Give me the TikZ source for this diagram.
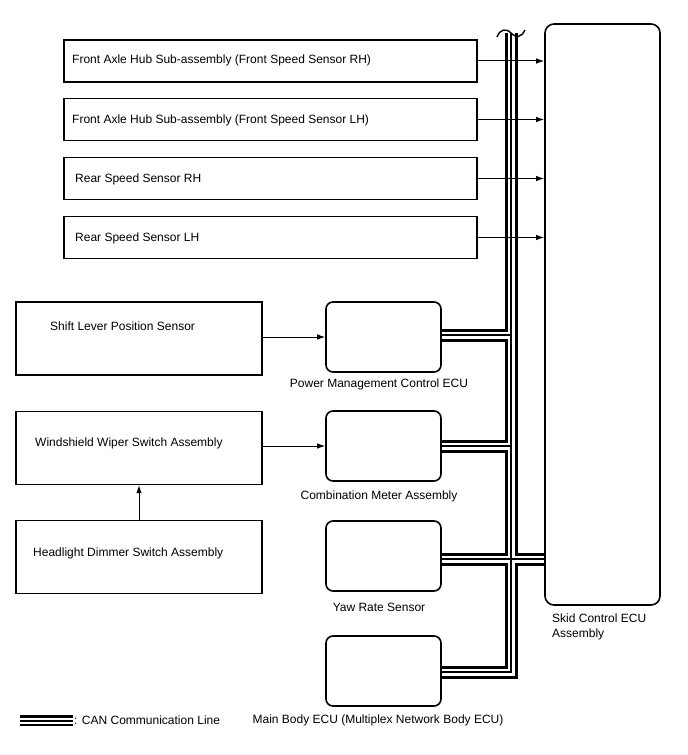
\documentclass[tikz,border=0pt]{standalone}
\usepackage{fontspec}
\setmainfont{Liberation Sans}
\usetikzlibrary{arrows.meta}
\begin{document}
\begin{tikzpicture}[x=1bp,y=-1bp,
  every node/.style={font=\fontsize{12bp}{14bp}\selectfont},
  sbox/.style={draw, line width=1.3bp, inner sep=0pt, minimum width=413bp, minimum height=42bp},
  lbox/.style={draw, line width=1.3bp, inner sep=0pt, minimum width=246bp, minimum height=73bp},
  ecu/.style={draw, line width=1.6bp, rounded corners=7bp, inner sep=0pt, minimum width=115bp, minimum height=70bp},
  skid/.style={draw, line width=1.6bp, rounded corners=9bp, inner sep=0pt, minimum width=115bp, minimum height=581bp},
  txt/.style={inner sep=0pt, anchor=base west},
  ctxt/.style={inner sep=0pt, anchor=base},
  arr/.style={line width=1bp, -{Latex[length=8bp,width=5.5bp]}},
  canA/.style={line width=13bp, line join=miter},
  canB/.style={white, line width=7bp, line join=miter},
  canC/.style={line width=1.3bp, line join=miter},
  legA/.style={line width=11bp},
  legB/.style={white, line width=6bp},
  legC/.style={line width=2bp},
]
\path[fill=white, use as bounding box] (0,0) rectangle (688,755);

% sensor boxes
\node[sbox] (frh) at (270.5,61) {};
\node[sbox] (flh) at (270.5,119.5) {};
\node[sbox] (rrh) at (270.5,178.5) {};
\node[sbox] (rlh) at (270.5,237.5) {};
\node[txt] (tfrh) at (72,64) {Front Axle Hub Sub-assembly (Front Speed Sensor RH)};
\node[txt] (tflh) at (72,123) {Front Axle Hub Sub-assembly (Front Speed Sensor LH)};
\node[txt] (trrh) at (75,182) {Rear Speed Sensor RH};
\node[txt] (trlh) at (75,241) {Rear Speed Sensor LH};

% left boxes
\node[lbox] (slp) at (139,338.5) {};
\node[lbox] (wws) at (139,448) {};
\node[lbox] (hds) at (139,557) {};
\node[txt] (tslp) at (50,330) {Shift Lever Position Sensor};
\node[txt] (twws) at (35,446) {Windshield Wiper Switch Assembly};
\node[txt] (thds) at (33,556) {Headlight Dimmer Switch Assembly};

% ECUs
\node[ecu] (pm) at (383.5,337) {};
\node[ecu] (cm) at (383.5,446) {};
\node[ecu] (yr) at (383.5,556) {};
\node[ecu] (mb) at (383.5,671) {};
\node[skid] (sk) at (602.5,314.5) {};
\node[ctxt] (tpm) at (379,387) {Power Management Control ECU};
\node[ctxt] (tcm) at (379,499) {Combination Meter Assembly};
\node[ctxt] (tyr) at (379,611) {Yaw Rate Sensor};
\node[ctxt] (tmb) at (378,723) {Main Body ECU (Multiplex Network Body ECU)};
\node[txt, align=left, anchor=north west] (tsk) at (552,614) {Skid Control ECU\\[1bp]Assembly};

% CAN bus
\coordinate (bustop) at (511,33);
\coordinate (buscorner) at (511,672);
\coordinate (jpm) at (511,335);
\coordinate (jcm) at (511,446);
\coordinate (jyr) at (511,559);
\foreach \s in {canA,canB,canC}{
  \draw[\s] (bustop) -- (buscorner) -- (buscorner -| mb.east);
  \draw[\s] (jpm) -- (jpm -| pm.east);
  \draw[\s] (jcm) -- (jcm -| cm.east);
  \draw[\s] (jyr -| yr.east) -- (jyr -| sk.west);
}
\draw[line width=1.4bp] (497,37) .. controls (500,29) and (506,28) .. (511,33) .. controls (516,38) and (521,38) .. (525,30);

% arrows
\draw[arr] (frh.east) -- (frh.east -| sk.west);
\draw[arr] (flh.east) -- (flh.east -| sk.west);
\draw[arr] (rrh.east) -- (rrh.east -| sk.west);
\draw[arr] (rlh.east) -- (rlh.east -| sk.west);
\draw[arr] (pm.west -| slp.east) -- (pm.west);
\draw[arr] (cm.west -| wws.east) -- (cm.west);
\draw[arr] (hds.north) -- (wws.south);

% legend
\coordinate (lg1) at (20,720.5);
\coordinate (lg2) at (73,720.5);
\foreach \s in {legA,legB,legC}{\draw[\s] (lg1) -- (lg2);}
\node[txt] (tlg) at (74,724) {: CAN Communication Line};
\end{tikzpicture}
\end{document}
